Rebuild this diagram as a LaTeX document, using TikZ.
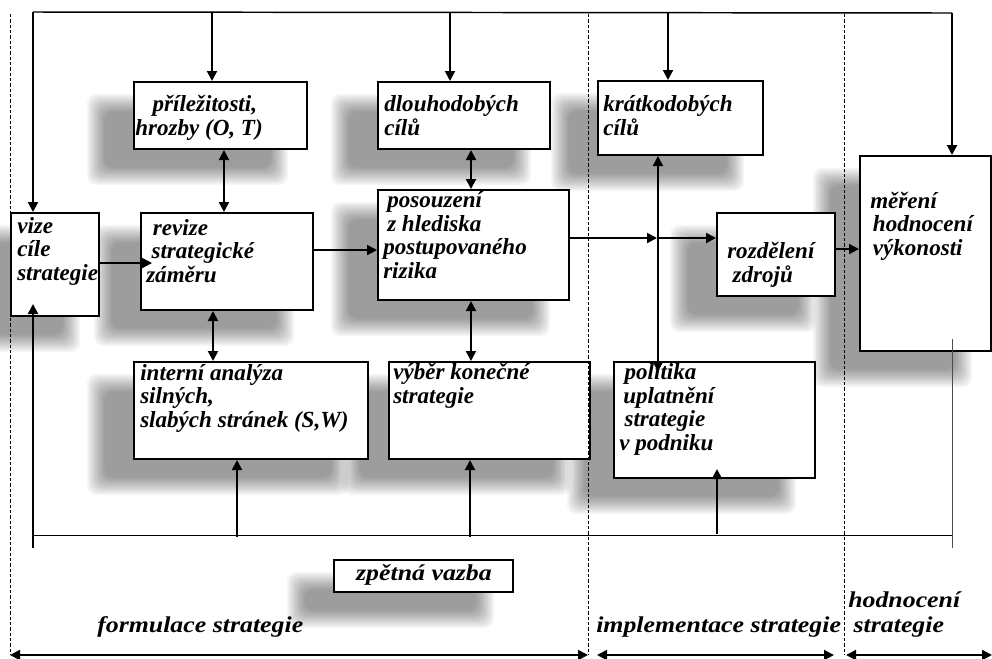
\documentclass[tikz,border=0pt]{standalone}
\usepackage{fontspec}
\setmainfont{Liberation Serif}
\newfontfamily\widefont{Liberation Serif}[FakeStretch=1.14]
\usetikzlibrary{arrows.meta,calc,backgrounds}

\tikzset{
  box/.style 2 args={draw, line width=1.5pt, fill=white, inner sep=0pt, anchor=north west,
    minimum width=#1*0.75pt, minimum height=#2*0.75pt},
  txt/.style={anchor=base west, align=left, inner sep=0pt,
    font=\bfseries\itshape\fontsize{17.3}{17.6}\selectfont},
  widetxt/.style={txt, font=\widefont\bfseries\itshape\fontsize{17}{18.75}\selectfont},
  conn/.style={line width=1.5pt},
  arr/.style={conn, -{Triangle[length=7.5pt,width=7.5pt]}},
  darr/.style={conn, {Triangle[length=7.5pt,width=7.5pt]}-{Triangle[length=7.5pt,width=7.5pt]}},
  phase/.style={line width=0.6pt, dash pattern=on 2.5pt off 1.5pt},
}

% soft grey shadow under a box
\newcommand{\dropshade}[1]{%
  \begin{pgfonlayer}{background}
    \foreach \k in {0,...,11}{
      \fill[black, opacity=0.038, rounded corners=7pt]
        ($(#1.north west)+(-46+1.6*\k,13+1.6*\k)$) rectangle ($(#1.south east)+(-20-1.6*\k,35-1.6*\k)$);
    }
  \end{pgfonlayer}}

\begin{document}
\begin{tikzpicture}[x=0.75pt,y=-0.75pt]
\useasboundingbox (0,0) rectangle (992,658);

% boxes
\node[box={88}{103}] (vize) at (10,212) {};
\node[box={173}{67}] (opp) at (133,81) {};
\node[box={172}{97}] (revize) at (140,212) {};
\node[box={172}{67}] (dlouh) at (377,81) {};
\node[box={191}{110}] (posz) at (377,189) {};
\node[box={165}{74}] (kratk) at (597,80) {};
\node[box={118}{83}] (rozd) at (716,212) {};
\node[box={131}{195}] (mereni) at (859,155) {};
\node[box={234}{97}] (interni) at (133,361) {};
\node[box={201}{97}] (vyber) at (388,361) {};
\node[box={201}{116}] (politika) at (613,361) {};
\node[box={179}{32}] (zv) at (333,559) {};

\foreach \b in {vize,opp,revize,dlouh,posz,kratk,rozd,mereni,interni,vyber,politika,zv}
  \dropshade{\b};

% texts (placed at the baseline of the last line)
\node[txt] (vize-t) at (17,280) {vize\\cíle\\strategie};
\node[txt] (opp-t) at (135,135) {\hspace*{13pt}příležitosti,\\hrozby (O, T)};
\node[txt] (revize-t) at (146,282) {\hspace*{5pt}revize\\\hspace*{4pt}strategické\\záměru};
\node[txt] (dlouh-t) at (384,135) {dlouhodobých\\cílů};
\node[txt] (posz-t) at (383,278) {\hspace*{3pt}posouzení\\\hspace*{3pt}z hlediska\\postupovaného\\rizika};
\node[txt] (kratk-t) at (603,135) {krátkodobých\\cílů};
\node[txt] (rozd-t) at (727,282) {rozdělení\\\hspace*{4pt}zdrojů};
\node[txt] (mereni-t) at (870,255) {měření\\\hspace*{2pt}hodnocení\\\hspace*{2pt}výkonosti};
\node[txt] (interni-t) at (140,427) {interní analýza\\silných,\\slabých stránek (S,W)};
\node[txt] (vyber-t) at (393,403) {výběr konečné\\strategie};
\node[txt] (politika-t) at (619,450) {\hspace*{4pt}politika\\\hspace*{3pt}uplatnění\\\hspace*{4pt}strategie\\v podniku};
\node[widetxt, anchor=base] (zv-t) at (424,580) {zpětná vazba};
\node[widetxt] (form) at (97,632) {formulace strategie};
\node[widetxt] (impl) at (596,632) {implementace strategie};
\node[widetxt] (hodn) at (848,632) {hodnocení\\\hspace*{4pt}strategie};

% top line
\coordinate (top0) at (33,12);
\coordinate (top1) at (212,12);
\coordinate (top2) at (450,12);
\coordinate (top3) at (668,12);
\coordinate (top4) at (952,13);
\draw[line width=1.1pt] (top0) -- (top4);
\draw[arr] (top0) -- (top0 |- vize.north);
\draw[arr] (top1) -- (top1 |- opp.north);
\draw[arr] (top2) -- (top2 |- dlouh.north);
\draw[arr] (top3) -- (top3 |- kratk.north);
\draw[arr] (top4) -- (top4 |- mereni.north);

% links between boxes
\draw[darr] ([xshift=2.6pt]opp.south) -- ([xshift=2.6pt]opp.south |- revize.north);
\draw[darr] ([xshift=-10.5pt]revize.south) -- ([xshift=-10.5pt]revize.south |- interni.north);
\draw[darr] ([xshift=5.25pt]dlouh.south) -- ([xshift=5.25pt]dlouh.south |- posz.north);
\draw[darr] ([xshift=-1.9pt]posz.south) -- ([xshift=-1.9pt]posz.south |- vyber.north);
\draw[darr] ([xshift=-16.9pt]kratk.south) -- ([xshift=-16.9pt,yshift=-8pt]kratk.south |- politika.north);
\draw[arr] ([yshift=1.1pt]vize.east) -- ([xshift=9pt,yshift=1.1pt]vize.east -| revize.west);
\draw[arr] ([yshift=8.6pt]revize.east) -- ([yshift=8.6pt]revize.east -| posz.west);
\coordinate (jn) at (657,238);
\draw[arr] (posz.east |- jn) -- (jn);
\draw[arr] (jn) -- (jn -| rozd.west);
\draw[arr] ([yshift=4.1pt]rozd.east) -- ([yshift=4.1pt]rozd.east -| mereni.west);

% feedback
\coordinate (fb0) at (33,535);
\coordinate (fb0e) at (33,548);
\coordinate (fb1) at (237,537);
\coordinate (fb2) at (470,537);
\coordinate (fb3) at (717,534);
\coordinate (fb4) at (952,535);
\coordinate (fb4e) at (952,548);
\draw[line width=0.75pt] (fb0) -- (fb4);
\draw[arr] (fb0e) -- ([yshift=9.75pt]fb0e |- vize.south);
\draw[arr] (fb1) -- (fb1 |- interni.south);
\draw[arr] (fb2) -- (fb2 |- vyber.south);
\draw[arr] (fb3) -- ([yshift=7.5pt]fb3 |- politika.south);
\draw[line width=0.6pt, black!70] (fb4e) -- ([yshift=9.75pt]fb4e |- mereni.south);

% phases
\foreach \x in {10,588,844}
  \draw[phase] (\x,14) -- (\x,655);
\draw[darr] (10,655) -- (588,655);
\draw[darr] (597,655) -- (834,655);
\draw[darr] (846,655) -- (992,655);
\end{tikzpicture}
\end{document}
